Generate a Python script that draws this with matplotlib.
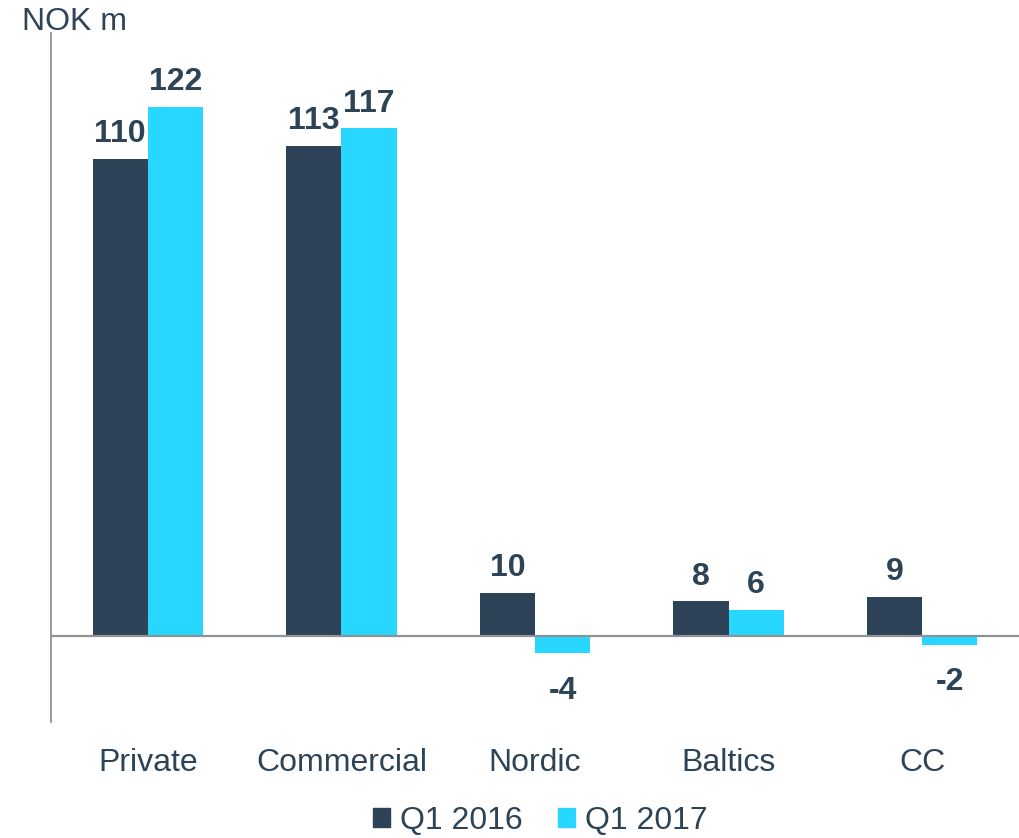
import matplotlib
matplotlib.use("Agg")
import matplotlib.pyplot as plt
from matplotlib.patches import Patch
import numpy as np

categories = ["Private", "Commercial", "Nordic", "Baltics", "CC"]
q1_2016 = [110, 113, 10, 8, 9]
q1_2017 = [122, 117, -4, 6, -2]
series_names = ["Q1 2016", "Q1 2017"]

DARK = "#2E4357"
CYAN = "#27D7FF"
TEXT = "#2D4356"
GRID = "#8E9297"

plt.rcParams["font.family"] = ["Liberation Sans", "DejaVu Sans"]

fig = plt.figure(figsize=(10.19, 8.38), dpi=100)
ax = fig.add_axes([51 / 1019, 116 / 838, 1 - 51 / 1019, (722 - 33) / 838])

x = np.arange(len(categories))
w = 0.285
ax.bar(x - w / 2, q1_2016, width=w, color=DARK, zorder=2)
ax.bar(x + w / 2, q1_2017, width=w, color=CYAN, zorder=2)

for vals, off in [(q1_2016, -w / 2), (q1_2017, w / 2)]:
    for xv, v in zip(x, vals):
        if v >= 0:
            ax.annotate(str(v), (xv + off, v), xytext=(0, 7), textcoords="offset points",
                        ha="center", va="bottom", fontsize=23, fontweight="bold", color=TEXT)
        else:
            ax.annotate(str(v), (xv + off, v), xytext=(0, -16), textcoords="offset points",
                        ha="center", va="top", fontsize=23, fontweight="bold", color=TEXT)

ax.axhline(0, color=GRID, lw=1.6, zorder=3)
ax.set_xlim(-0.5, 4.5)
ax.set_ylim(-19.8, 139)

for s in ["top", "right", "bottom"]:
    ax.spines[s].set_visible(False)
ax.spines["left"].set_color(GRID)
ax.spines["left"].set_linewidth(1.3)
ax.set_yticks([])
ax.set_xticks(x)
ax.set_xticklabels(categories, fontsize=23, color=TEXT)
ax.tick_params(axis="x", length=0, pad=19)

fig.text(22 / 1019, 1 - 22 / 838, "NOK m", fontsize=23, color=TEXT, ha="left", va="center")

handles = [Patch(color=DARK), Patch(color=CYAN)]
fig.legend(handles, series_names, loc="center", bbox_to_anchor=(540 / 1019, 1 - 821 / 838),
           ncol=2, frameon=False, fontsize=23, labelcolor=TEXT, handlelength=0.55,
           handleheight=0.55, handletextpad=0.3, columnspacing=1.1)

fig.savefig("out.png", dpi=100)
